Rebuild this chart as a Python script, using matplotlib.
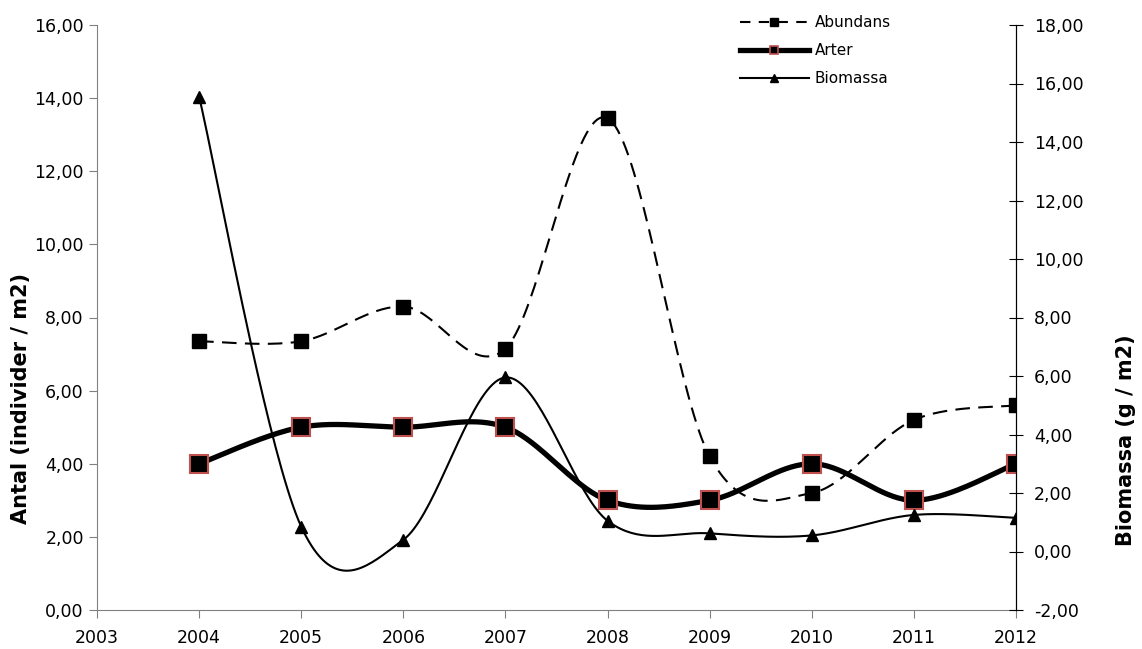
import numpy as np
import matplotlib
matplotlib.use("Agg")
import matplotlib.pyplot as plt
from matplotlib.ticker import FuncFormatter, MultipleLocator
from matplotlib.lines import Line2D

plt.rcParams["font.family"] = ["DejaVu Sans"]

years = [2004, 2005, 2006, 2007, 2008, 2009, 2010, 2011, 2012]
abundans = [7.35, 7.35, 8.3, 7.15, 13.45, 4.2, 3.2, 5.2, 5.6]
arter = [4, 5, 5, 5, 3, 3, 4, 3, 4]
biomassa = [15.55, 0.85, 0.4, 5.95, 1.05, 0.62, 0.55, 1.25, 1.15]


def smooth(x, y, n=40):
    # Excel-style smoothed line (cardinal bezier through the points)
    x = np.asarray(x, float)
    y = np.asarray(y, float)
    px = np.concatenate([[x[0]], x, [x[-1]]])
    py = np.concatenate([[y[0]], y, [y[-1]]])
    t = np.linspace(0, 1, n)
    xs, ys = [], []
    for i in range(1, len(px) - 2):
        p0 = np.array([px[i], py[i]])
        p3 = np.array([px[i + 1], py[i + 1]])
        p1 = p0 + (np.array([px[i + 1], py[i + 1]]) - np.array([px[i - 1], py[i - 1]])) / 6
        p2 = p3 - (np.array([px[i + 2], py[i + 2]]) - np.array([px[i], py[i]])) / 6
        b = ((1 - t) ** 3)[:, None] * p0 + (3 * (1 - t) ** 2 * t)[:, None] * p1 \
            + (3 * (1 - t) * t ** 2)[:, None] * p2 + (t ** 3)[:, None] * p3
        xs.append(b[:, 0])
        ys.append(b[:, 1])
    return np.concatenate(xs), np.concatenate(ys)


comma = FuncFormatter(lambda v, p: f"{v:.2f}".replace(".", ","))

fig = plt.figure(figsize=(11.42, 6.49), dpi=100)
ax = fig.add_axes([97 / 1142, 39 / 649, 919 / 1142, 585 / 649])
ax2 = ax.twinx()

sx, sy = smooth(years, abundans)
ax.plot(sx, sy, color="black", lw=1.5, dashes=(7, 4))
ax.plot(years, abundans, ls="none", marker="s", ms=10, color="black")

sx, sy = smooth(years, arter)
ax.plot(sx, sy, color="black", lw=3.8)
ax.plot(years, arter, ls="none", marker="s", ms=13, mfc="black", mec="#c0504d", mew=1.5)

sx, sy = smooth(years, biomassa)
ax2.plot(sx, sy, color="black", lw=1.5)
ax2.plot(years, biomassa, ls="none", marker="^", ms=9, color="black")

ax.set_xlim(2003, 2012)
ax.set_ylim(0, 16)
ax2.set_ylim(-2, 18)
ax.xaxis.set_major_locator(MultipleLocator(1))
ax.yaxis.set_major_locator(MultipleLocator(2))
ax2.yaxis.set_major_locator(MultipleLocator(2))
ax.yaxis.set_major_formatter(comma)
ax2.yaxis.set_major_formatter(comma)

for a in (ax, ax2):
    a.spines["top"].set_visible(False)
ax.spines["left"].set_color("#808080")
ax.spines["bottom"].set_color("#808080")
ax2.spines["left"].set_visible(False)
ax2.spines["bottom"].set_visible(False)
ax2.spines["right"].set_color("black")

ax.tick_params(axis="x", direction="out", length=6, color="#808080", labelsize=12.5, pad=8)
ax.tick_params(axis="y", direction="out", length=6, color="#808080", labelsize=12.5)
ax2.tick_params(axis="y", direction="inout", length=10, color="black", labelsize=12.5, pad=8)

ax.set_ylabel("Antal (individer / m2)", fontsize=15, fontweight="bold")
ax.yaxis.set_label_coords(-0.072, 0.362)
ax2.set_ylabel("Biomassa (g / m2)", fontsize=15, fontweight="bold")
ax2.yaxis.set_label_coords(1.109, 0.29)

handles = [
    Line2D([], [], color="black", lw=1.5, dashes=(5, 4), marker="s", ms=6),
    Line2D([], [], color="black", lw=3.8, marker="s", ms=6, mfc="black", mec="#c0504d", mew=1.2),
    Line2D([], [], color="black", lw=1.5, marker="^", ms=6),
]
fig.legend(handles, ["Abundans", "Arter", "Biomassa"], loc="upper left",
           bbox_to_anchor=(726 / 1142, 0.998), frameon=False, fontsize=11,
           handlelength=4.5, labelspacing=0.85, handletextpad=0.4)

fig.savefig("out.png", dpi=100)
